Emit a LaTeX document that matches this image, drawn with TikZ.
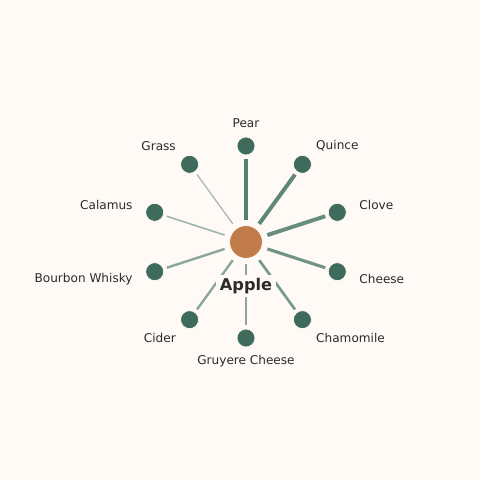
\documentclass[tikz,border=0pt]{standalone}
\usepackage{fontspec}
\setmainfont{DejaVu Sans}
\usetikzlibrary{positioning}

\definecolor{bgcream}{HTML}{FFFAF6}
\definecolor{leafgreen}{HTML}{3E6B5C}
\definecolor{spokegreen}{HTML}{4C7B69}
\definecolor{appleorange}{HTML}{C27B4A}
\definecolor{textgray}{HTML}{2A2A2A}

\tikzset{
  leaf/.style={circle, fill=leafgreen, draw=bgcream, line width=0.5pt, inner sep=0pt, outer sep=0pt, minimum size=0.45cm},
  hub/.style={circle, fill=appleorange, draw=bgcream, line width=0.5pt, inner sep=0pt, outer sep=0pt, minimum size=0.82cm},
  leaflabel/.style={text=textgray, font=\fontsize{8.6}{10}\selectfont, inner sep=0pt},
  spoke/.style={draw=spokegreen, shorten <=4.3pt, shorten >=2.6pt}
}

\begin{document}
\begin{tikzpicture}[x=0.025cm,y=0.025cm]

\fill[bgcream] (-246,-238) rectangle (234,242);
\useasboundingbox (-246,-238) rectangle (234,242);

\node[hub] (apple) at (0,0) {};

% outer flavours
\foreach \name/\ang/\txt/\side in {
   pear/90/Pear/center, quince/54/Quince/west, clove/18/Clove/west,
   cheese/-18/Cheese/west, chamomile/-54/Chamomile/west,
   gruyere/-90/Gruyere Cheese/center, cider/-126/Cider/east,
   bourbon/-162/Bourbon Whisky/east, calamus/162/Calamus/east,
   grass/126/Grass/east}
{
   \node[leaf] (\name) at (\ang:96) {};
   \node[leaflabel, anchor=\side] (\name-label) at (\ang:119) {\txt};
}

% spokes, thick to thin
\foreach \name/\w/\op in {
   pear/2.9/0.95, quince/2.8/0.9, clove/2.8/0.85, cheese/2.2/0.8,
   chamomile/1.9/0.75, gruyere/1.5/0.65, cider/1.7/0.65,
   bourbon/1.7/0.65, calamus/1.1/0.55, grass/0.9/0.5}
   \draw[spoke, line width=\w pt, draw opacity=\op] (apple) -- (\name);

\node[fill=bgcream, text=textgray, font=\fontsize{11.5}{13}\selectfont\bfseries, inner xsep=3pt, inner ysep=2pt] (apple-label) at (0,-44) {Apple};

\end{tikzpicture}
\end{document}
